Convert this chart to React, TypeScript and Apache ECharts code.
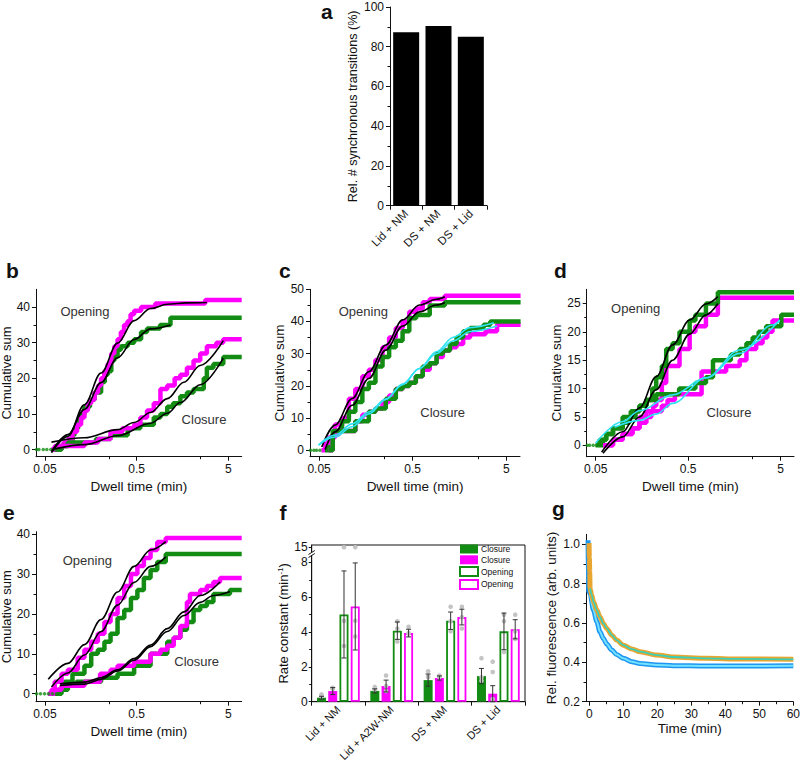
import React, { useEffect, useRef } from "react";
import * as echarts from "echarts";

type P = [number, number];

const FONT = "'Liberation Sans', Arial, Helvetica, sans-serif";
const INK = "#111111";
const GREEN = "#128c12";
const MAGENTA = "#ff00ff";
const CYAN = "#2fe2f2";
const BLACK = "#000000";

// ---------------- panel a ----------------
const aCategories = ["Lid + NM", "DS + NM", "DS + Lid"];
const aValues = [87.3, 90.5, 85.0];

// ---------------- dwell-time axes (b-e) ----------------
const dwellMin = 0.04;
const dwellMax = 7;
const dwellTickValues = [0.05, 0.5, 5];
const dwellMinorValues = [0.25, 2.5];

// ---------------- panel b ----------------
const bOpenMag: P[] = [[0.059,0],[0.07,1],[0.08,2],[0.089,3],[0.1,5],[0.112,7],[0.124,9],[0.135,11],[0.147,13],[0.16,14],[0.174,16],[0.19,18],[0.205,20],[0.222,22],[0.242,24],[0.265,27],[0.286,29],[0.31,31],[0.337,33],[0.365,35],[0.398,36],[0.43,38],[0.47,39],[0.56,40],[0.8,41],[2.8,42],[7,42]];
const bOpenGrn: P[] = [[0.064,0],[0.076,1],[0.089,2],[0.1,4],[0.105,6],[0.115,8],[0.124,10],[0.135,12],[0.155,14],[0.174,16],[0.205,19],[0.225,21],[0.242,22],[0.265,25],[0.286,26],[0.31,28],[0.337,29],[0.4,30],[0.47,31],[0.56,33],[0.65,34],[0.9,35],[1.17,37],[7,37]];
const bCloseMag: P[] = [[0.059,0],[0.064,1],[0.135,2],[0.19,3],[0.26,5],[0.35,6],[0.47,7],[0.55,9],[0.65,11],[0.77,13],[0.91,17],[1.08,18],[1.3,20],[1.5,21],[1.77,23],[2.09,25],[2.47,27],[2.92,29],[3.7,30],[4.4,31],[7,31]];
const bCloseGrn: P[] = [[0.064,0],[0.076,1],[0.089,2],[0.18,3],[0.26,4],[0.4,6],[0.55,7],[0.77,9],[0.91,10],[1.08,12],[1.25,13],[1.5,15],[1.77,16],[2.09,17],[2.7,20],[2.92,23],[3.44,24],[4.41,26],[7,26]];
const bFitOpenMag: P[] = [[0.059,-0.9],[0.089,3.7],[0.135,12.6],[0.205,21.5],[0.31,29.9],[0.47,36.2],[0.71,39.6],[1.08,40.8],[1.77,41.2],[2.92,41.3]];
const bFitOpenGrn: P[] = [[0.059,-0.5],[0.089,4.2],[0.135,11.3],[0.205,18.8],[0.31,25.8],[0.47,30.9],[0.71,33.9],[1.17,35]];
const bFitCloseMag: P[] = [[0.059,2.1],[0.135,3.3],[0.31,5.6],[0.47,7.6],[0.71,10.4],[1.08,14.3],[1.64,18.9],[2.47,23.6],[4.41,30.6]];
const bFitCloseGrn: P[] = [[0.064,0.2],[0.135,1.4],[0.31,3.9],[0.71,7.4],[1.08,10.2],[1.5,13.2],[2.47,18.2],[4.41,25.7]];
const bDots = [0.0405, 0.043, 0.048, 0.0525, 0.058, 0.064, 0.07];

// ---------------- panel c ----------------
const cOpenMag: P[] = [[0.053,0],[0.058,2],[0.063,4],[0.074,8],[0.088,10],[0.104,16],[0.122,19],[0.145,23],[0.17,25],[0.2,28],[0.238,32],[0.28,35],[0.33,38],[0.39,40],[0.46,43],[0.54,44],[0.64,46],[0.76,47],[1.1,48],[7.1,48]];
const cOpenGrn: P[] = [[0.058,0],[0.063,1],[0.07,5],[0.074,6],[0.088,9],[0.104,12],[0.122,15],[0.145,19],[0.17,21],[0.2,26],[0.238,29],[0.28,32],[0.33,34],[0.39,37],[0.46,41],[0.544,42],[0.76,45],[1.1,46],[7.1,46]];
const cCloseMag: P[] = [[0.063,0],[0.07,5],[0.082,6],[0.122,9],[0.145,11],[0.17,12],[0.2,13],[0.238,15],[0.28,17],[0.33,19],[0.39,20],[0.46,21],[0.54,23],[0.64,25],[0.76,27],[0.9,29],[1.05,31],[1.25,32],[1.47,33],[1.73,35],[2.05,36],[3.0,37],[3.98,39],[7.1,39]];
const cCloseGrn: P[] = [[0.063,0],[0.07,6],[0.122,9],[0.17,12],[0.2,13],[0.258,16],[0.33,19],[0.39,20],[0.46,21],[0.54,23],[0.64,26],[0.76,27],[0.9,30],[1.05,31],[1.25,33],[1.47,35],[1.73,37],[2.05,38],[2.86,39],[3.37,40],[7.1,40]];
const cFitOpenMag: P[] = [[0.0534,1],[0.074,7.8],[0.113,16.1],[0.17,24.4],[0.258,32.7],[0.391,40.5],[0.59,45.1],[0.895,46.9],[1.1,47.7]];
const cFitOpenGrn: P[] = [[0.058,0.2],[0.074,5.7],[0.113,14],[0.17,22.3],[0.258,31.1],[0.391,38.6],[0.59,43],[0.895,45.1],[1.1,45.9]];
const cFitCloseMag: P[] = [[0.0492,1.6],[0.074,4.1],[0.113,7.3],[0.17,11.3],[0.258,15.8],[0.391,20.6],[0.59,25.4],[0.895,30],[1.36,34],[2.05,36.9],[3.98,38.6]];
const cFitCloseGrn: P[] = [[0.0492,1.6],[0.074,4.7],[0.113,8.2],[0.17,11.9],[0.258,15.9],[0.391,20.4],[0.59,25.4],[0.895,30.6],[1.36,35.1],[2.05,38.1],[3.7,39.6]];
const cDots = [0.0405, 0.044, 0.047, 0.051];

// ---------------- panel d ----------------
const dOpenGrn: P[] = [[0.055,0],[0.06,1],[0.065,2],[0.077,3],[0.098,4],[0.116,5],[0.135,6],[0.149,7],[0.177,8],[0.205,10],[0.226,12],[0.26,14],[0.29,17],[0.34,18],[0.404,20],[0.52,22],[0.6,23],[0.78,25],[1.05,27],[7,27]];
const dOpenMag: P[] = [[0.06,0],[0.077,1],[0.098,2],[0.125,3],[0.149,4],[0.177,6],[0.21,7],[0.226,8],[0.26,11],[0.29,14],[0.404,17],[0.52,20],[0.6,21],[0.78,23],[1.05,26],[7,26]];
const dCloseGrn: P[] = [[0.05,0],[0.055,1],[0.065,2],[0.077,3],[0.098,5],[0.12,6],[0.149,7],[0.177,8],[0.226,9],[0.4,10],[0.6,11],[0.78,12],[0.93,15],[1.45,16],[1.81,17],[2.14,18],[2.5,19],[2.9,20],[3.5,21],[5.1,23],[7,23]];
const dCloseMag: P[] = [[0.06,0],[0.077,1],[0.098,2],[0.125,3],[0.149,5],[0.2,6],[0.26,7],[0.3,8],[0.36,9],[0.7,13],[1.29,14],[1.81,15],[2.14,17],[2.73,18],[3.2,19],[3.6,20],[4.1,22],[7,22]];
const dFitOpenGrn: P[] = [[0.058,-1.2],[0.098,2.4],[0.149,6.6],[0.226,12.1],[0.34,17.7],[0.52,22.1],[0.78,24.9],[1.05,26.2]];
const dFitOpenMag: P[] = [[0.06,-1.4],[0.098,1.5],[0.149,5],[0.226,9.8],[0.34,15],[0.52,19.6],[0.78,23],[1.05,25]];
const dFitCloseGrn: P[] = [[0.05,0.4],[0.098,4.2],[0.149,6.1],[0.34,8.9],[0.78,11.9],[1.81,16.2],[4.1,21.2],[4.9,21.9]];
const dFitCloseMag: P[] = [[0.08,3.2],[0.149,4.4],[0.226,5.5],[0.34,7.4],[0.78,11.9],[1.81,16.8],[4.9,22.1]];
const dDots = [0.0405, 0.043, 0.047, 0.051, 0.055];

// ---------------- panel e ----------------
const eOpenMag: P[] = [[0.054,0],[0.059,1],[0.064,3],[0.076,5],[0.089,6],[0.114,9],[0.135,11],[0.16,13],[0.189,15],[0.223,18],[0.26,20],[0.31,24],[0.367,27],[0.434,30],[0.51,32],[0.6,34],[0.71,36],[0.84,38],[1.04,39],[7,39]];
const eOpenGrn: P[] = [[0.064,0],[0.07,1],[0.082,3],[0.1,5],[0.135,7],[0.16,10],[0.189,11],[0.223,13],[0.26,15],[0.31,19],[0.367,21],[0.434,24],[0.51,26],[0.6,29],[0.71,31],[0.84,33],[1.04,35],[7,35]];
const eCloseMag: P[] = [[0.059,0],[0.064,1],[0.076,2],[0.135,3],[0.2,5],[0.26,6],[0.31,7],[0.47,8],[0.71,10],[0.91,11],[1.08,12],[1.27,14],[1.5,17],[1.77,23],[1.91,25],[2.47,26],[2.92,27],[3.44,28],[4.06,29],[7,29]];
const eCloseGrn: P[] = [[0.07,0],[0.076,1],[0.089,2],[0.11,3],[0.205,4],[0.31,5],[0.47,7],[0.71,10],[1.08,13],[1.27,14],[1.5,16],[1.77,18],[2.09,21],[2.47,22],[2.92,23],[3.44,25],[5.21,26],[7,26]];
const eFitOpenMag: P[] = [[0.0544,3.6],[0.089,7.6],[0.135,12.3],[0.205,18.6],[0.31,25.5],[0.47,31.9],[0.71,36],[1.04,38.1]];
const eFitOpenGrn: P[] = [[0.059,1.7],[0.089,5.2],[0.135,9.7],[0.205,15.6],[0.31,22.2],[0.47,27.9],[0.71,31.9],[1.04,34.3]];
const eFitCloseMag: P[] = [[0.073,2.5],[0.135,2.9],[0.205,4.0],[0.31,6.0],[0.47,8.8],[0.71,12.2],[1.08,16.3],[1.64,20.5],[2.47,24.6],[4.06,28]];
const eFitCloseGrn: P[] = [[0.073,2.1],[0.135,2.4],[0.205,3.6],[0.31,5.7],[0.47,8.4],[0.71,11.8],[1.08,15.6],[1.64,19.6],[2.47,22.9],[3.44,24.6],[5.21,25.6]];
const eDots = [0.0406, 0.0448, 0.0496, 0.0547, 0.0605, 0.0668];

// ---------------- panel f ----------------
const fCategories = ["Lid + NM", "Lid + A2W-NM", "DS + NM", "DS + Lid"];
const fClosureGrn = [0.23, 0.62, 1.24, 1.47];
const fClosureMag = [0.61, 0.9, 1.36, 0.46];
const fOpeningGrn = [5.01, 4.08, 4.65, 4.04];
const fOpeningMag = [5.47, 3.94, 4.86, 4.16];
const fClosureGrnErr = [0.08, 0.12, 0.35, 0.44];
const fClosureMagErr = [0.2, 0.34, 0.12, 0.46];
const fOpeningGrnErr = [2.5, 0.5, 0.5, 1.05];
const fOpeningMagErr = [2.5, 0.22, 0.45, 0.55];
const fClosureGrnPts = [[0.42, 0.33, 0.3], [0.85, 0.72, 0.7], [1.75, 1.45, 1.4], [2.5, 1.4, 1.2]];
const fClosureMagPts = [[0.8, 0.77, 0.73], [1.5, 0.9, 0.62], [1.5, 1.45, 1.4], [2.3, 1.7, 0.15]];
const fOpeningGrnPts = [[15, 4.65, 3.2], [4.62, 4.2, 3.45], [5.45, 4.62, 4.05], [5.0, 4.62, 2.85]];
const fOpeningMagPts = [[15, 4.65, 3.75], [4.3, 3.95, 3.9], [5.45, 4.85, 4.2], [5.0, 4.05, 3.6]];
const fTicks = [0, 2, 4, 6, 8];
const fMinorTicks = [1, 3, 5, 7];
const fBreakValue = 15;
const fBreakPos = 8.87;

// ---------------- panel g ----------------
const gOrange: P[] = [[-0.1,1.005],[0,0.93],[0.1,0.86],[0.2,0.775],[0.7,0.741],[1.2,0.707],[2.2,0.665],[3.1,0.631],[4.1,0.597],[5.1,0.572],[6.6,0.538],[8,0.513],[10,0.487],[12.5,0.467],[14.9,0.454],[19.8,0.437],[24.7,0.427],[34.5,0.42],[44.3,0.417],[60,0.415]];
const gBlue: P[] = [[-0.4,1.02],[-0.3,0.9],[-0.2,0.76],[0.2,0.75],[1.2,0.665],[2.2,0.606],[3.1,0.555],[4.1,0.521],[5.1,0.493],[6.6,0.462],[8,0.44],[10,0.42],[12.5,0.403],[14.9,0.394],[19.8,0.386],[24.7,0.383],[34.5,0.381],[44.3,0.381],[60,0.383]];
const gXTicks = [0, 10, 20, 30, 40, 50, 60];
const gXMinor = [5, 15, 25, 35, 45, 55];
const gYTicks = [0.2, 0.4, 0.6, 0.8, 1.0];
const gYMinor = [0.3, 0.5, 0.7, 0.9];

const lg = (t: number) => Math.log10(t);
const toLog = (d: P[]) => d.map(([t, v]) => [lg(t), v]);

function buildOption() {
  const grid: any[] = [];
  const xAxis: any[] = [];
  const yAxis: any[] = [];
  const series: any[] = [];
  const graphic: any[] = [];

  const labelStyle = { color: INK, fontSize: 12, fontFamily: FONT };
  const nameStyle = { color: INK, fontSize: 13.5, fontFamily: FONT, lineHeight: 14 };
  const line = { show: true, onZero: false, lineStyle: { color: INK, width: 1 } };

  const addGrid = (g: any) => {
    grid.push({ ...g, containLabel: false, outerBoundsMode: "none" });
    return grid.length - 1;
  };
  const minorAxis = (kind: "x" | "y", gi: number, min: number, max: number, values: number[]) => ({
    type: "value",
    gridIndex: gi,
    min,
    max,
    position: kind === "x" ? "bottom" : "left",
    axisLine: { show: false, onZero: false },
    splitLine: { show: false },
    axisLabel: { show: false },
    axisTick: { show: true, length: 2.5, customValues: values, lineStyle: { color: INK } },
  });

  const dwellPanel = (
    box: any,
    yMin: number,
    yMax: number,
    yTicks: number[],
    yMinor: number[],
    nameGap: number,
    yNameSize: number,
    steps: { data: P[]; color: string }[],
    fits: { data: P[]; color: string }[],
    dots: number[]
  ) => {
    const gi = addGrid(box);
    const xi = xAxis.length;
    xAxis.push({
      type: "value",
      gridIndex: gi,
      min: lg(dwellMin),
      max: lg(dwellMax),
      position: "bottom",
      axisLine: line,
      splitLine: { show: false },
      axisTick: { show: true, length: 4, customValues: dwellTickValues.map(lg), lineStyle: { color: INK } },
      axisLabel: {
        ...labelStyle,
        margin: 6,
        customValues: dwellTickValues.map(lg),
        formatter: (v: number) => String(Number(Math.pow(10, v).toPrecision(3))),
      },
      name: "Dwell time (min)",
      nameLocation: "middle",
      nameGap: 23,
      nameTextStyle: nameStyle,
    });
    xAxis.push(minorAxis("x", gi, lg(dwellMin), lg(dwellMax), dwellMinorValues.map(lg)));
    const yi = yAxis.length;
    yAxis.push({
      type: "value",
      gridIndex: gi,
      min: yMin,
      max: yMax,
      position: "left",
      axisLine: line,
      splitLine: { show: false },
      axisTick: { show: true, length: 4, customValues: yTicks, lineStyle: { color: INK } },
      axisLabel: { ...labelStyle, margin: 6, customValues: yTicks },
      name: "Cumulative sum",
      nameLocation: "middle",
      nameGap,
      nameRotate: 90,
      nameTextStyle: { ...nameStyle, fontSize: yNameSize, lineHeight: yNameSize },
    });
    yAxis.push(minorAxis("y", gi, yMin, yMax, yMinor));
    steps.forEach((s) =>
      series.push({
        type: "line",
        xAxisIndex: xi,
        yAxisIndex: yi,
        data: toLog(s.data),
        step: "end",
        symbol: "none",
        silent: true,
        lineStyle: { color: s.color, width: 4.5 },
        z: 2,
      })
    );
    series.push({
      type: "scatter",
      xAxisIndex: xi,
      yAxisIndex: yi,
      data: dots.map((t) => [lg(t), 0]),
      symbolSize: 3.5,
      silent: true,
      itemStyle: { color: GREEN },
      z: 3,
    });
    fits.forEach((f) =>
      series.push({
        type: "line",
        xAxisIndex: xi,
        yAxisIndex: yi,
        data: toLog(f.data),
        smooth: 0.35,
        smoothMonotone: "x",
        symbol: "none",
        silent: true,
        lineStyle: { color: f.color, width: 1.6 },
        z: 4,
      })
    );
  };

  // ---------- a ----------
  {
    const gi = addGrid({ left: 390, top: 7, width: 97, height: 198.7 });
    const xi = xAxis.length;
    xAxis.push({
      type: "category",
      gridIndex: gi,
      data: aCategories,
      axisLine: line,
      axisTick: { show: true, length: 4, lineStyle: { color: INK } },
      axisLabel: { ...labelStyle, fontSize: 11.5, rotate: 45, margin: 6 },
    });
    const yi = yAxis.length;
    yAxis.push({
      type: "value",
      gridIndex: gi,
      min: 0,
      max: 100,
      interval: 20,
      axisLine: line,
      splitLine: { show: false },
      axisTick: { show: true, length: 4, lineStyle: { color: INK } },
      minorTick: { show: true, splitNumber: 2, length: 2.5, lineStyle: { color: INK } },
      axisLabel: { ...labelStyle, margin: 6 },
      name: "Rel. # synchronous transitions (%)",
      nameLocation: "middle",
      nameGap: 29,
      nameRotate: 90,
      nameTextStyle: { ...nameStyle, fontSize: 12.6 },
    });
    series.push({
      type: "bar",
      xAxisIndex: xi,
      yAxisIndex: yi,
      data: aValues,
      barWidth: 26,
      silent: true,
      itemStyle: { color: "#000" },
    });
  }

  // ---------- b-e ----------
  dwellPanel(
    { left: 36, top: 289.3, width: 205.7, height: 167.4 },
    -2, 45, [0, 10, 20, 30, 40], [5, 15, 25, 35], 18, 13,
    [
      { data: bOpenGrn, color: GREEN },
      { data: bOpenMag, color: MAGENTA },
      { data: bCloseGrn, color: GREEN },
      { data: bCloseMag, color: MAGENTA },
    ],
    [
      { data: bFitOpenMag, color: BLACK },
      { data: bFitOpenGrn, color: BLACK },
      { data: bFitCloseMag, color: BLACK },
      { data: bFitCloseGrn, color: BLACK },
    ],
    bDots
  );
  dwellPanel(
    { left: 310, top: 289.3, width: 210, height: 167.4 },
    -2, 50, [0, 10, 20, 30, 40, 50], [5, 15, 25, 35, 45], 20, 13.5,
    [
      { data: cOpenMag, color: MAGENTA },
      { data: cOpenGrn, color: GREEN },
      { data: cCloseMag, color: MAGENTA },
      { data: cCloseGrn, color: GREEN },
    ],
    [
      { data: cFitOpenMag, color: BLACK },
      { data: cFitOpenGrn, color: BLACK },
      { data: cFitCloseMag, color: CYAN },
      { data: cFitCloseGrn, color: CYAN },
    ],
    cDots
  );
  dwellPanel(
    { left: 586.7, top: 289.3, width: 207.3, height: 167.4 },
    -2, 27.5, [0, 5, 10, 15, 20, 25], [2.5, 7.5, 12.5, 17.5, 22.5], 20, 13.5,
    [
      { data: dOpenMag, color: MAGENTA },
      { data: dOpenGrn, color: GREEN },
      { data: dCloseMag, color: MAGENTA },
      { data: dCloseGrn, color: GREEN },
    ],
    [
      { data: dFitOpenGrn, color: BLACK },
      { data: dFitOpenMag, color: BLACK },
      { data: dFitCloseGrn, color: CYAN },
      { data: dFitCloseMag, color: CYAN },
    ],
    dDots
  );
  dwellPanel(
    { left: 36, top: 531.7, width: 205.7, height: 170 },
    -2, 40.6, [0, 10, 20, 30, 40], [5, 15, 25, 35], 18, 13,
    [
      { data: eOpenGrn, color: GREEN },
      { data: eOpenMag, color: MAGENTA },
      { data: eCloseGrn, color: GREEN },
      { data: eCloseMag, color: MAGENTA },
    ],
    [
      { data: eFitOpenMag, color: BLACK },
      { data: eFitOpenGrn, color: BLACK },
      { data: eFitCloseMag, color: BLACK },
      { data: eFitCloseGrn, color: BLACK },
    ],
    eDots
  );

  // ---------- f ----------
  {
    const gi = addGrid({
      left: 311.7, top: 545, width: 213.3, height: 156.7,
      show: true, borderColor: INK, borderWidth: 1, backgroundColor: "transparent",
    });
    const xi = xAxis.length;
    xAxis.push({
      type: "category",
      gridIndex: gi,
      data: fCategories,
      axisLine: line,
      axisTick: { show: true, length: 4, lineStyle: { color: INK } },
      axisLabel: { ...labelStyle, fontSize: 11, rotate: 45, margin: 6, interval: 0 },
    });
    const yi = yAxis.length;
    const yTicks = [...fTicks, fBreakPos];
    yAxis.push({
      type: "value",
      gridIndex: gi,
      min: 0,
      max: 9,
      axisLine: line,
      splitLine: { show: false },
      axisTick: { show: true, length: 3, customValues: yTicks, lineStyle: { color: INK } },
      axisLabel: {
        ...labelStyle,
        margin: 4,
        customValues: yTicks,
        formatter: (v: number) => (v > 8.5 ? String(fBreakValue) : String(v)),
      },
      name: "Rate constant (min{sup|-1})",
      nameLocation: "middle",
      nameGap: 18,
      nameRotate: 90,
      nameTextStyle: { ...nameStyle, fontSize: 13, rich: { sup: { fontSize: 8, verticalAlign: "top", fontFamily: FONT, color: INK } } },
    });
    yAxis.push(minorAxis("y", gi, 0, 9, fMinorTicks));
    const place = (v: number) => (v >= fBreakValue ? fBreakPos : v);
    const barDefs = [
      { name: "Closure (green)", vals: fClosureGrn, err: fClosureGrnErr, pts: fClosureGrnPts, fill: GREEN, border: GREEN },
      { name: "Closure (magenta)", vals: fClosureMag, err: fClosureMagErr, pts: fClosureMagPts, fill: MAGENTA, border: MAGENTA },
      { name: "Opening (green)", vals: fOpeningGrn, err: fOpeningGrnErr, pts: fOpeningGrnPts, fill: "#ffffff", border: GREEN },
      { name: "Opening (magenta)", vals: fOpeningMag, err: fOpeningMagErr, pts: fOpeningMagPts, fill: "#ffffff", border: MAGENTA },
    ];
    const barW = 9;
    const step = barW * 1.25;
    barDefs.forEach((b, i) => {
      const off = (i - 1.5) * step;
      series.push({
        type: "bar",
        name: b.name,
        xAxisIndex: xi,
        yAxisIndex: yi,
        data: b.vals,
        barWidth: barW,
        barGap: "25%",
        silent: true,
        itemStyle: { color: b.fill, borderColor: b.border, borderWidth: b.fill === "#ffffff" ? 1.8 : 0 },
        z: 2,
      });
      const dotData: number[][] = [];
      b.pts.forEach((arr, ci) => arr.forEach((v) => dotData.push([ci, place(v)])));
      series.push({
        type: "custom",
        xAxisIndex: xi,
        yAxisIndex: yi,
        silent: true,
        z: 3,
        encode: { x: 0, y: 1 },
        data: dotData,
        renderItem: (params: any, api: any) => {
          const c = api.coord([api.value(0), api.value(1)]);
          return {
            type: "circle",
            shape: { cx: c[0] + off, cy: c[1], r: 2.3 },
            style: { fill: "#c4c4c4" },
          };
        },
      });
      series.push({
        type: "custom",
        xAxisIndex: xi,
        yAxisIndex: yi,
        silent: true,
        z: 4,
        encode: { x: 0, y: [1, 2] },
        data: b.vals.map((v, ci) => [ci, v - b.err[ci], v + b.err[ci]]),
        renderItem: (params: any, api: any) => {
          const lo = api.coord([api.value(0), api.value(1)]);
          const hi = api.coord([api.value(0), api.value(2)]);
          const x = lo[0] + off;
          const st = { stroke: "#333333", lineWidth: 1 };
          return {
            type: "group",
            children: [
              { type: "line", shape: { x1: x, y1: lo[1], x2: x, y2: hi[1] }, style: st },
              { type: "line", shape: { x1: x - 2.5, y1: lo[1], x2: x + 2.5, y2: lo[1] }, style: st },
              { type: "line", shape: { x1: x - 2.5, y1: hi[1], x2: x + 2.5, y2: hi[1] }, style: st },
            ],
          };
        },
      });
    });
  }

  // ---------- g ----------
  {
    const gi = addGrid({ left: 586, top: 534.3, width: 207.3, height: 167.4 });
    const xi = xAxis.length;
    xAxis.push({
      type: "value",
      gridIndex: gi,
      min: -1,
      max: 60,
      position: "bottom",
      axisLine: line,
      splitLine: { show: false },
      axisTick: { show: true, length: 4, customValues: gXTicks, lineStyle: { color: INK } },
      axisLabel: { ...labelStyle, margin: 6, customValues: gXTicks },
      name: "Time (min)",
      nameLocation: "middle",
      nameGap: 20,
      nameTextStyle: nameStyle,
    });
    xAxis.push(minorAxis("x", gi, -1, 60, gXMinor));
    const yi = yAxis.length;
    yAxis.push({
      type: "value",
      gridIndex: gi,
      min: 0.2,
      max: 1.05,
      position: "left",
      axisLine: line,
      splitLine: { show: false },
      axisTick: { show: true, length: 4, customValues: gYTicks, lineStyle: { color: INK } },
      axisLabel: { ...labelStyle, margin: 6, customValues: gYTicks, formatter: (v: number) => v.toFixed(1) },
      name: "Rel. fluorescence (arb. units)",
      nameLocation: "middle",
      nameGap: 28,
      nameRotate: 90,
      nameTextStyle: nameStyle,
    });
    yAxis.push(minorAxis("y", gi, 0.2, 1.05, gYMinor));
    const mk = (data: any, color: string, width: number, z: number) => ({
      type: "line",
      xAxisIndex: xi,
      yAxisIndex: yi,
      data,
      smooth: 0.3,
      smoothMonotone: "x",
      symbol: "none",
      silent: true,
      lineStyle: { color, width },
      z,
    });
    series.push(mk(gBlue, "#1e96f0", 5, 2));
    series.push(mk(gBlue.slice(3), "#72e2ff", 2, 3));
    series.push(mk(gOrange, "#e8a630", 5, 4));
    series.push(mk(gOrange.slice(3), "#3dcfb6", 1.8, 5));
  }

  // ---------- texts ----------
  const letter = (t: string, x: number, y: number) =>
    graphic.push({
      type: "text",
      x,
      y,
      silent: true,
      style: { text: t, fill: "#111", font: `bold 21px ${FONT}`, align: "left", verticalAlign: "middle" },
    });
  letter("a", 321, 11);
  letter("b", 6, 270.5);
  letter("c", 279, 270.5);
  letter("d", 554, 270.5);
  letter("e", 3, 512.5);
  letter("f", 279.5, 512.5);
  letter("g", 552, 508);
  const note = (t: string, x: number, y: number) =>
    graphic.push({
      type: "text",
      x,
      y,
      silent: true,
      style: { text: t, fill: "#333", font: `13px ${FONT}`, align: "center", verticalAlign: "middle" },
    });
  note("Opening", 85, 311.7);
  note("Closure", 204, 419.3);
  note("Opening", 363.3, 311.7);
  note("Closure", 442.7, 412.7);
  note("Opening", 635.7, 308.3);
  note("Closure", 729, 412.7);
  note("Opening", 87.3, 560.7);
  note("Closure", 196.7, 661.7);

  // axis break on panel f
  graphic.push({ type: "rect", silent: true, shape: { x: 308, y: 552.3, width: 7, height: 3 }, style: { fill: "#fff" }, z: 100 });
  graphic.push({ type: "line", silent: true, shape: { x1: 308.5, y1: 554.5, x2: 314.8, y2: 550.5 }, style: { stroke: INK, lineWidth: 1 }, z: 101 });
  graphic.push({ type: "line", silent: true, shape: { x1: 308.5, y1: 557.5, x2: 314.8, y2: 553.5 }, style: { stroke: INK, lineWidth: 1 }, z: 101 });

  return {
    animation: false,
    backgroundColor: "#ffffff",
    textStyle: { fontFamily: FONT },
    grid,
    xAxis,
    yAxis,
    series,
    graphic,
    legend: {
      data: ["Closure (green)", "Closure (magenta)", "Opening (green)", "Opening (magenta)"],
      formatter: (n: string) => n.split(" ")[0],
      orient: "vertical",
      left: 459,
      top: 544.5,
      padding: 0,
      itemWidth: 18,
      itemHeight: 9,
      itemGap: 1.8,
      icon: "rect",
      selectedMode: false,
      textStyle: { fontSize: 8.5, fontFamily: FONT, color: INK, padding: [0, 0, 0, -2] },
    },
  };
}

export default function App() {
  const ref = useRef<HTMLDivElement>(null);
  useEffect(() => {
    const chart = echarts.init(ref.current as HTMLDivElement, null, { renderer: "svg", width: 800, height: 772 });
    chart.setOption(buildOption() as any);
    return () => chart.dispose();
  }, []);
  return (
    <div
      ref={ref}
      style={{ position: "absolute", left: 0, top: 0, width: 800, height: 772, background: "#fff" }}
    />
  );
}
